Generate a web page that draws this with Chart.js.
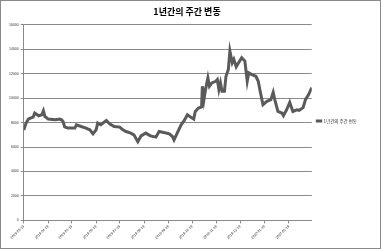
<!DOCTYPE html>
<html>
<head>
<meta charset="utf-8">
<script src="https://cdn.jsdelivr.net/npm/chart.js@4/dist/chart.umd.min.js"></script>
<style>
  html, body { margin: 0; padding: 0; background: #fff; }
  .frame { width: 381px; height: 249px; box-sizing: border-box; border: 1px solid #8a8a8a; }
  .frame canvas { display: block; }
</style>
</head>
<body>
<div class="frame"><canvas id="chart" width="379" height="247"></canvas></div>
<script>
// 1년간의 주간 변동
const title = '1년간의 주간 변동';
const seriesName = '1년간의 주간 변동';
const startDate = '2019-03-19';
const endDate = '2020-03-19';
const tickLabels = [
  '2019-03-19', '2019-04-19', '2019-05-19', '2019-06-19', '2019-07-19', '2019-08-19',
  '2019-09-19', '2019-10-19', '2019-11-19', '2019-12-19', '2020-01-19', '2020-02-19',
];

// days since start date
const days = [
  0, 3, 6, 10, 12, 14, 19, 23, 25, 27, 28, 31, 40, 46, 48, 50, 52, 56, 65, 67,
  73, 79, 84, 88, 92, 94, 98, 105, 109, 115, 122, 126, 130, 136, 140, 145, 149, 155, 161, 168,
  172, 178, 185, 189, 191, 195, 200, 204, 208, 212, 216, 218, 222, 226, 227, 229, 231, 234, 236, 239,
  244, 246, 248, 250, 252, 255, 257, 260, 262, 265, 267, 270, 273, 277, 281, 284, 286, 290, 295, 298,
  300, 304, 309, 314, 317, 319, 323, 328, 330, 334, 338, 342, 347, 350, 355, 358, 362, 366,
];
const prices = [
  7400, 7960, 8290, 8400, 8450, 8780, 8560, 8640, 8970, 8480, 8450, 8290, 8230, 8290, 8230, 8090, 7650, 7550, 7550, 7820,
  7680, 7550, 7410, 7080, 7410, 7960, 7820, 8170, 7900, 7680, 7630, 7410, 7270, 7140, 7000, 6440, 6910, 7140, 6910, 6810,
  7270, 7190, 7080, 6860, 6580, 7140, 7820, 8170, 8640, 8450, 8290, 8910, 9190, 9280, 10970, 9880, 10700, 11660, 10970, 11250,
  11380, 11520, 10700, 11250, 10560, 10560, 11790, 12350, 13850, 12900, 13170, 12570, 12900, 13310, 13030, 11380, 12070, 11930, 11790, 11380,
  10700, 9470, 9740, 9880, 10480, 9880, 8910, 8780, 8560, 9050, 9650, 8910, 9050, 9000, 9220, 9880, 10290, 10860,
];

const yMin = 0;
const yMax = 16000;
const yStep = 2000;

const dayOf = (s) => Math.round((new Date(s) - new Date(startDate)) / 86400000);
const tickDays = tickLabels.map(dayOf);

const points = days.map((d, i) => ({ x: d, y: prices[i] }));
const gridColor = '#8a8a8a';
const textColor = '#333';

new Chart(document.getElementById('chart'), {
  type: 'line',
  data: {
    datasets: [{
      label: seriesName,
      data: points,
      borderColor: '#5a5a5a',
      backgroundColor: '#5a5a5a',
      borderWidth: 3,
      pointRadius: 0,
      tension: 0,
    }],
  },
  options: {
    responsive: false,
    animation: false,
    layout: { padding: { left: 6, right: 13, top: 0, bottom: 7 } },
    plugins: {
      title: {
        display: true,
        text: title,
        color: '#000',
        font: { family: '"Noto Sans CJK KR", sans-serif', size: 9, weight: 'bold' },
        padding: { top: 5, bottom: 8 },
      },
      legend: {
        position: 'right',
        labels: {
          usePointStyle: true,
          pointStyle: 'line',
          boxWidth: 8,
          color: textColor,
          font: { family: '"Noto Sans CJK KR", sans-serif', size: 4.5 },
          padding: 5,
        },
      },
      tooltip: { enabled: false },
    },
    scales: {
      x: {
        type: 'linear',
        min: 0,
        max: dayOf(endDate),
        afterBuildTicks: (scale) => { scale.ticks = tickDays.map(v => ({ value: v })); },
        grid: { drawOnChartArea: false, drawTicks: true, tickLength: 3, color: gridColor },
        border: { color: gridColor },
        ticks: {
          autoSkip: false,
          minRotation: 45,
          maxRotation: 45,
          padding: 1,
          color: textColor,
          font: { family: '"Liberation Sans", sans-serif', size: 3.5 },
          callback: (v, i) => tickLabels[i] ?? '',
        },
      },
      y: {
        min: yMin,
        max: yMax,
        grid: { color: gridColor, tickLength: 3 },
        border: { color: gridColor },
        ticks: {
          stepSize: yStep,
          padding: 2,
          color: textColor,
          font: { family: '"Liberation Sans", sans-serif', size: 3.5 },
          callback: (v) => String(v),
        },
      },
    },
  },
});
</script>
</body>
</html>
